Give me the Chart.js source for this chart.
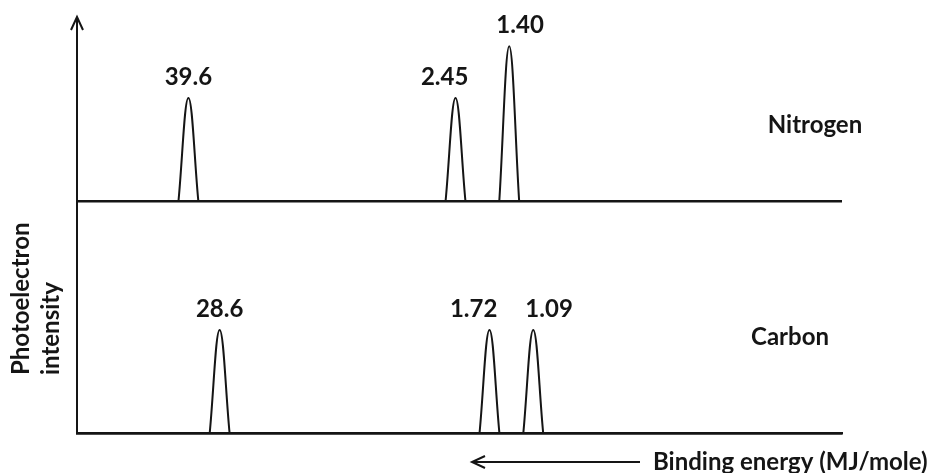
<!DOCTYPE html>
<html>
<head>
<meta charset="utf-8">
<script src="https://cdn.jsdelivr.net/npm/chart.js@4.4.1/dist/chart.umd.min.js"></script>
<style>
html,body{margin:0;padding:0;background:#fff}
#wrap{width:937px;height:473px;position:relative}
</style>
</head>
<body>
<div id="wrap"><canvas id="pes"></canvas></div>
<script>
// binding energies (MJ/mol) and relative peak heights (electrons in subshell)
const elements = ["Nitrogen", "Carbon"]
const nitrogenEnergy = [39.6, 2.45, 1.40]
const nitrogenHeight = [2, 2, 3]
const carbonEnergy = [28.6, 1.72, 1.09]
const carbonHeight = [2, 2, 2]
const yTitle = ["Photoelectron", "intensity"]
const xTitle = "Binding energy (MJ/mole)"

const ink = "#151515"
const font = "bold 24px Lato, 'Open Sans', sans-serif"
const peakSpread = 1.109 // half width of a peak, as an energy ratio
const labelGap = 28 // min free space between two peak labels

function peakSets(energy, height, axis){
return energy.map((e,i)=>({
label: e.toPrecision(3),
yAxisID: axis,
data: [{x:e*peakSpread,y:0},{x:e,y:height[i]},{x:e/peakSpread,y:0}],
borderColor: ink,
borderWidth: 2,
pointRadius: 0,
tension: 0.4,
fill: false
}))
}

const datasets = peakSets(nitrogenEnergy, nitrogenHeight, "yN")
.concat(peakSets(carbonEnergy, carbonHeight, "yC"))

// labels, arrow heads and axis titles
const annotate = {
id:"annotate",
afterDraw(chart){
const {ctx, chartArea:a} = chart
ctx.save()
ctx.fillStyle = ink
ctx.strokeStyle = ink
ctx.font = font

// peak values, pushed apart when two sit too close
const labels = chart.data.datasets.map((ds,i)=>{
const apex = chart.getDatasetMeta(i).data[1]
return {text:ds.label, axis:ds.yAxisID, x:apex.x, y:apex.y, w:ctx.measureText(ds.label).width}
})
for(let i=1;i<labels.length;i++){
const p = labels[i-1], q = labels[i]
if(p.axis !== q.axis) continue
const need = (p.w + q.w)/2 + labelGap - (q.x - p.x)
if(need > 0){ p.x -= need/2; q.x += need/2 }
}
ctx.textAlign = "center"
ctx.textBaseline = "alphabetic"
labels.forEach(l=>ctx.fillText(l.text, l.x, l.y - 13))

// element names
ctx.textBaseline = "middle"
ctx.fillText(elements[0], a.right - 27, a.top + 107)
ctx.fillText(elements[1], a.right - 52, a.top + 319)

// arrow on top of the y axis
ctx.lineWidth = 2
ctx.beginPath()
ctx.moveTo(a.left - 6, a.top + 12)
ctx.lineTo(a.left, a.top - 1)
ctx.lineTo(a.left + 6, a.top + 12)
ctx.stroke()

// y title, two rotated lines
ctx.save()
ctx.translate(0, a.bottom - 58)
ctx.rotate(-Math.PI/2)
ctx.textAlign = "left"
ctx.fillText(yTitle[0], 0, 21)
ctx.fillText(yTitle[1], 0, 51)
ctx.restore()

// x title with leftward arrow
const ty = a.bottom + 29
ctx.textAlign = "left"
ctx.fillText(xTitle, a.right - 189, ty)
ctx.beginPath()
ctx.moveTo(a.left + 395, ty)
ctx.lineTo(a.right - 202, ty)
ctx.stroke()
ctx.beginPath()
ctx.moveTo(a.left + 408, ty - 6)
ctx.lineTo(a.left + 395, ty)
ctx.lineTo(a.left + 408, ty + 6)
ctx.stroke()
ctx.restore()
}
}

const baseline = c => c.tick.value === 0 ? ink : "rgba(0,0,0,0)"

new Chart(document.getElementById("pes"),{
type:"line",
data:{datasets},
options:{
responsive:true,
maintainAspectRatio:false,
animation:false,
events:[],
layout:{padding:{left:77,right:95,top:18,bottom:40}},
plugins:{legend:{display:false},tooltip:{enabled:false}},
scales:{
x:{
type:"logarithmic",
reverse:true,
min:0.0437,
max:126.4,
grid:{display:false,drawTicks:false},
ticks:{display:false},
border:{display:true,color:ink,width:2.5}
},
// stacked axes are laid out bottom first
yC:{
type:"linear",
position:"left",
stack:"pes",
stackWeight:232,
min:0,
max:4.5,
ticks:{display:false},
grid:{drawTicks:false,color:baseline,lineWidth:2.5},
border:{display:true,color:ink,width:2}
},
yN:{
type:"linear",
position:"left",
stack:"pes",
stackWeight:183,
min:0,
max:3.55,
ticks:{display:false},
grid:{drawTicks:false,color:baseline,lineWidth:2.5},
border:{display:true,color:ink,width:2}
}
}
},
plugins:[annotate]
})
</script>
</body>
</html>
